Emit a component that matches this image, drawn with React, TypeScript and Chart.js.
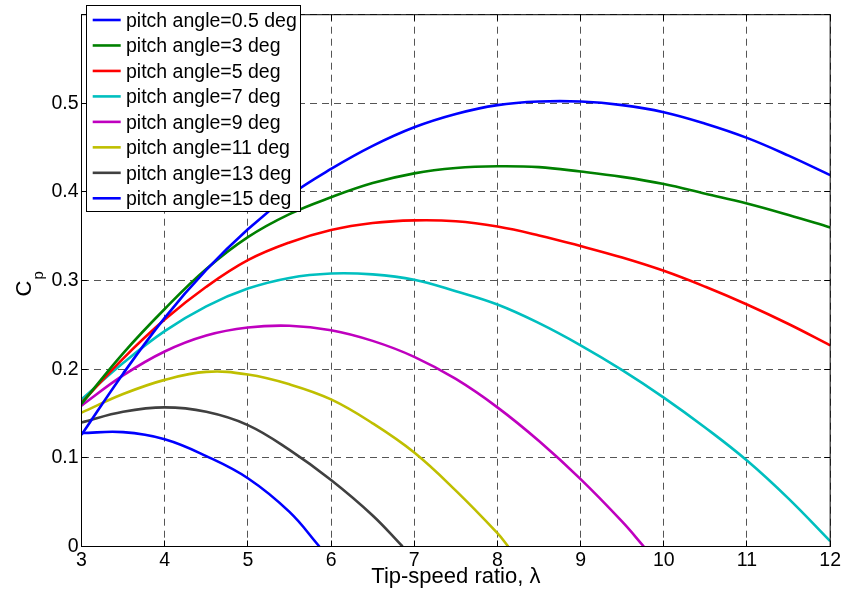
import React, { useEffect, useRef } from "react";
import { Chart, registerables } from "chart.js";

Chart.register(...registerables);

// ---------- data ----------
const LAMBDA = [3, 3.5, 4, 4.5, 5, 5.5, 6, 6.5, 7, 7.5, 8, 8.5, 9, 9.5, 10, 10.5, 11, 11.5, 12];
const CP_PITCH_0_5 = [0.126, 0.195, 0.258, 0.312, 0.358, 0.396, 0.426, 0.452, 0.473, 0.488, 0.498, 0.502, 0.502, 0.498, 0.49, 0.477, 0.461, 0.441, 0.419];
const CP_PITCH_3 = [0.161, 0.218, 0.268, 0.313, 0.349, 0.375, 0.394, 0.41, 0.421, 0.427, 0.429, 0.428, 0.423, 0.417, 0.409, 0.398, 0.387, 0.374, 0.36];
const CP_PITCH_5 = [0.162, 0.212, 0.256, 0.293, 0.323, 0.343, 0.357, 0.365, 0.368, 0.367, 0.361, 0.351, 0.339, 0.326, 0.311, 0.293, 0.273, 0.251, 0.227];
const CP_PITCH_7 = [0.166, 0.207, 0.243, 0.271, 0.291, 0.303, 0.308, 0.307, 0.301, 0.288, 0.273, 0.252, 0.227, 0.199, 0.168, 0.134, 0.097, 0.054, 0.006];
const LAMBDA_PITCH_9 = [3, 3.5, 4, 4.5, 5, 5.5, 6, 6.5, 7, 7.5, 8, 8.5, 9, 9.5, 9.76];
const CP_PITCH_9 = [0.159, 0.193, 0.22, 0.238, 0.247, 0.249, 0.244, 0.232, 0.214, 0.189, 0.157, 0.119, 0.076, 0.028, 0];
const LAMBDA_PITCH_11 = [3, 3.5, 4, 4.5, 5, 5.5, 6, 6.5, 7, 7.5, 8, 8.13];
const CP_PITCH_11 = [0.151, 0.172, 0.188, 0.197, 0.194, 0.183, 0.166, 0.139, 0.106, 0.063, 0.015, 0];
const LAMBDA_PITCH_13 = [3, 3.5, 4, 4.5, 5, 5.5, 6, 6.5, 6.86];
const CP_PITCH_13 = [0.14, 0.152, 0.157, 0.152, 0.137, 0.109, 0.075, 0.035, 0];
const LAMBDA_PITCH_15 = [3, 3.5, 4, 4.5, 5, 5.5, 5.86];
const CP_PITCH_15 = [0.128, 0.129, 0.121, 0.102, 0.077, 0.039, 0];

const SERIES_LABELS = [
  "pitch angle=0.5 deg",
  "pitch angle=3 deg",
  "pitch angle=5 deg",
  "pitch angle=7 deg",
  "pitch angle=9 deg",
  "pitch angle=11 deg",
  "pitch angle=13 deg",
  "pitch angle=15 deg",
];
const SERIES_COLORS = ["#0000FF", "#008000", "#FF0000", "#00BFBF", "#BF00BF", "#BFBF00", "#404040", "#0000FF"];
const SERIES_X = [LAMBDA, LAMBDA, LAMBDA, LAMBDA, LAMBDA_PITCH_9, LAMBDA_PITCH_11, LAMBDA_PITCH_13, LAMBDA_PITCH_15];
const SERIES_Y = [CP_PITCH_0_5, CP_PITCH_3, CP_PITCH_5, CP_PITCH_7, CP_PITCH_9, CP_PITCH_11, CP_PITCH_13, CP_PITCH_15];

const X_TICKS = [3, 4, 5, 6, 7, 8, 9, 10, 11, 12];
const Y_TICKS = [0, 0.1, 0.2, 0.3, 0.4, 0.5, 0.6];
const X_TITLE = "Tip-speed ratio, λ";
const Y_TITLE_MAIN = "C";
const Y_TITLE_SUB = "p";

// ---------- styling ----------
const FONT = '"Liberation Sans", Arial, Helvetica, sans-serif';
const TICK_FONT_SIZE = 19.5;
const LABEL_FONT_SIZE = 22;
const TICK_LEN = 6;

const decorPlugin = {
  id: "matlabDecor",
  afterDatasetsDraw(chart: any) {
    const { ctx, chartArea, scales } = chart;
    const { left, right, top, bottom } = chartArea;
    const xs = scales.x;
    const ys = scales.y;
    ctx.save();
    // inner ticks on all four sides
    ctx.strokeStyle = "#000";
    ctx.lineWidth = 1;
    ctx.setLineDash([]);
    ctx.beginPath();
    X_TICKS.forEach((v) => {
      const px = Math.floor(xs.getPixelForValue(v)) + 0.5;
      ctx.moveTo(px, bottom);
      ctx.lineTo(px, bottom - TICK_LEN);
      ctx.moveTo(px, top);
      ctx.lineTo(px, top + TICK_LEN);
    });
    Y_TICKS.forEach((v) => {
      const py = Math.floor(ys.getPixelForValue(v)) + 0.5;
      ctx.moveTo(left, py);
      ctx.lineTo(left + TICK_LEN, py);
      ctx.moveTo(right, py);
      ctx.lineTo(right - TICK_LEN, py);
    });
    ctx.stroke();
    // box
    ctx.strokeRect(left, top, right - left, bottom - top);

    // legend
    const lx = 86.5;
    const ly = 5.5;
    const lw = 214;
    const lh = 206;
    ctx.fillStyle = "#fff";
    ctx.fillRect(lx, ly, lw, lh);
    ctx.strokeStyle = "#000";
    ctx.lineWidth = 1;
    ctx.strokeRect(lx, ly, lw, lh);
    ctx.font = `${TICK_FONT_SIZE}px ${FONT}`;
    ctx.textAlign = "left";
    ctx.textBaseline = "alphabetic";
    SERIES_LABELS.forEach((label, i) => {
      const cy = 20 + i * 25.47;
      ctx.strokeStyle = SERIES_COLORS[i];
      ctx.lineWidth = 2.6;
      ctx.beginPath();
      ctx.moveTo(92.7, cy);
      ctx.lineTo(120.7, cy);
      ctx.stroke();
      ctx.fillStyle = "#000";
      ctx.fillText(label, 126, cy + 7);
    });

    // x title
    ctx.font = `${LABEL_FONT_SIZE}px ${FONT}`;
    ctx.textAlign = "center";
    ctx.fillStyle = "#000";
    ctx.fillText(X_TITLE, (left + right) / 2, 582.5);

    // y title C_p (rotated)
    ctx.translate(30.7, 296.5);
    ctx.rotate(-Math.PI / 2);
    ctx.textAlign = "left";
    ctx.font = `${LABEL_FONT_SIZE}px ${FONT}`;
    ctx.fillText(Y_TITLE_MAIN, 0, 0);
    const w = ctx.measureText(Y_TITLE_MAIN).width;
    ctx.font = `15px ${FONT}`;
    ctx.fillText(Y_TITLE_SUB, w + 1, 12.5);
    ctx.restore();
  },
};

export default function App() {
  const canvasRef = useRef<HTMLCanvasElement | null>(null);

  useEffect(() => {
    const canvas = canvasRef.current;
    if (!canvas) return;
    const datasets = SERIES_LABELS.map((label, i) => ({
      label,
      data: SERIES_X[i].map((x, j) => ({ x, y: SERIES_Y[i][j] })),
      borderColor: SERIES_COLORS[i],
      backgroundColor: SERIES_COLORS[i],
      borderWidth: 2.6,
      pointRadius: 0,
      fill: false,
      tension: 0.4,
    }));

    const chart = new Chart(canvas, {
      type: "line",
      data: { datasets },
      options: {
        animation: false,
        responsive: false,
        maintainAspectRatio: false,
        layout: { padding: { left: 0, top: 1.5, right: 12.5, bottom: 0 } },
        plugins: {
          legend: { display: false },
          tooltip: { enabled: false },
        },
        scales: {
          x: {
            type: "linear",
            min: 3,
            max: 12,
            afterFit: (scale: any) => {
              scale.height = 55.5;
            },
            afterBuildTicks: (scale: any) => {
              scale.ticks = X_TICKS.map((v) => ({ value: v }));
            },
            ticks: {
              color: "#000",
              padding: 2,
              maxRotation: 0,
              autoSkip: false,
              font: { family: FONT, size: TICK_FONT_SIZE },
              callback: (v: any) => String(v),
            },
            grid: {
              color: "#555",
              lineWidth: 1,
              drawTicks: false,
            },
            border: { display: false, dash: [7, 5] },
            title: { display: false },
          },
          y: {
            type: "linear",
            min: 0,
            max: 0.6,
            afterFit: (scale: any) => {
              scale.width = 81.5;
            },
            afterBuildTicks: (scale: any) => {
              scale.ticks = Y_TICKS.map((v) => ({ value: v }));
            },
            ticks: {
              color: "#000",
              padding: 3,
              autoSkip: false,
              font: { family: FONT, size: TICK_FONT_SIZE },
              callback: (v: any) => {
                const n = Number(v);
                if (n > 0.55) return "";
                return n === 0 ? "0" : n.toFixed(1);
              },
            },
            grid: {
              color: "#555",
              lineWidth: 1,
              drawTicks: false,
            },
            border: { display: false, dash: [7, 5] },
            title: { display: false },
          },
        },
      },
      plugins: [decorPlugin],
    });
    return () => chart.destroy();
  }, []);

  return (
    <div style={{ position: "absolute", left: 0, top: 0, width: 843, height: 602, background: "#fff" }}>
      <canvas ref={canvasRef} width={843} height={602} style={{ display: "block", width: 843, height: 602 }} />
    </div>
  );
}
